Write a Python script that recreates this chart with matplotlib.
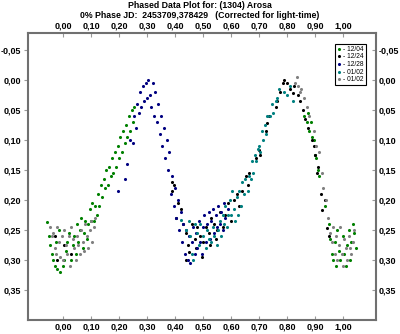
import matplotlib
matplotlib.use("Agg")
import matplotlib.pyplot as plt
from matplotlib.ticker import FuncFormatter

plt.rcParams['font.family'] = ['Liberation Sans', 'DejaVu Sans']

title1 = "Phased Data Plot for: (1304) Arosa"
title2 = "0% Phase JD:  2453709,378429   (Corrected for light-time)"

labels = ["- 12/04", "- 12/24", "- 12/28", "- 01/02", "- 01/02"]
colors = ["#008000", "#000000", "#000080", "#008080", "#808080"]

green_x = [-0.057, -0.05, -0.045, -0.04, -0.035, -0.03, -0.02, -0.01, 0.0, 0.005, -0.025, -0.015, 0.01, 0.015, 0.02,
           0.03, 0.035, 0.04, 0.045, 0.05, 0.055, 0.06, 0.065, 0.07, 0.075, 0.08, 0.085, 0.09, 0.095, 0.10, 0.105,
           0.11, 0.115, 0.12, 0.125, 0.13, 0.135, 0.14, 0.145, 0.15, 0.155, 0.16, 0.165, 0.17, 0.175, 0.18, 0.185,
           0.19, 0.195, 0.20, 0.205, 0.21, 0.215, 0.22, 0.225, 0.23, 0.235, 0.24, 0.245, 0.25, 0.255,
           0.86, 0.87, 0.875, 0.88, 0.885, 0.89, 0.895, 0.90, 0.905, 0.91, 0.915, 0.935,
           0.95, 0.955, 0.96, 0.965, 0.97, 0.975, 0.98, 0.985, 0.99, 1.0, 1.005, 1.01, 1.015, 1.02, 1.025, 1.03,
           1.035, 1.04, 1.045]
green_y = [0.236, 0.26, 0.275, 0.29, 0.30, 0.31, 0.315, 0.32, 0.31, 0.30, 0.27, 0.25, 0.285, 0.27, 0.255,
           0.30, 0.275, 0.26, 0.29, 0.24, 0.27, 0.25, 0.23, 0.28, 0.255, 0.235, 0.265, 0.24, 0.215, 0.235, 0.205,
           0.235, 0.21, 0.225, 0.19, 0.21, 0.175, 0.195, 0.165, 0.18, 0.15, 0.175, 0.145, 0.16, 0.13, 0.155, 0.12,
           0.145, 0.11, 0.13, 0.095, 0.12, 0.085, 0.105, 0.075, 0.095, 0.06, 0.085, 0.05, 0.07, 0.045,
           0.06, 0.07, 0.055, 0.085, 0.07, 0.095, 0.10, 0.125, 0.13, 0.15, 0.16, 0.21,
           0.24, 0.265, 0.29, 0.30, 0.27, 0.31, 0.25, 0.285, 0.30, 0.26, 0.29, 0.31, 0.275, 0.25, 0.30, 0.27,
           0.24, 0.255, 0.28]

black_x = [-0.03, -0.02, 0.005, 0.03,
           0.39, 0.39, 0.395, 0.41, 0.405, 0.42, 0.43, 0.44, 0.445, 0.45, 0.44, 0.46, 0.47, 0.475, 0.48, 0.49,
           0.495, 0.50, 0.51, 0.52, 0.525, 0.53, 0.54, 0.545, 0.55, 0.56, 0.57, 0.58, 0.59, 0.60, 0.61, 0.62,
           0.63, 0.64, 0.655, 0.66, 0.665, 0.69, 0.70, 0.705, 0.725, 0.73, 0.735, 0.76, 0.765, 0.775, 0.785,
           0.79, 0.80, 0.81, 0.82, 0.825, 0.84, 0.845, 0.857, 0.865, 0.875, 0.89, 0.895, 0.90, 0.907, 0.91,
           0.925, 0.92, 0.936, 0.943, 0.95]
black_y = [0.26, 0.30, 0.275, 0.29,
           0.17, 0.185, 0.175, 0.205, 0.23, 0.215, 0.24, 0.255, 0.275, 0.287, 0.30, 0.24, 0.265, 0.28, 0.245, 0.26,
           0.295, 0.27, 0.245, 0.255, 0.275, 0.23, 0.24, 0.265, 0.25, 0.22, 0.245, 0.225, 0.205, 0.235, 0.20, 0.19,
           0.21, 0.185, 0.16, 0.175, 0.155, 0.13, 0.117, 0.125, 0.085, 0.072, 0.06, 0.045, 0.035, 0.02, 0.005,
           0.0, 0.005, 0.015, 0.022, 0.01, 0.025, 0.035, 0.05, 0.065, 0.08, 0.10, 0.11, 0.125, 0.155, 0.145,
           0.217, 0.19, 0.20, 0.247, 0.26]

navy_x = [0.195, 0.22, 0.23, 0.24, 0.25, 0.255, 0.26, 0.265, 0.27, 0.275, 0.28, 0.285, 0.29, 0.295, 0.30, 0.305,
          0.31, 0.315, 0.32, 0.325, 0.33, 0.335, 0.34, 0.345, 0.35, 0.355, 0.36, 0.365, 0.37, 0.375, 0.38, 0.385,
          0.39, 0.395, 0.40, 0.405, 0.41, 0.415, 0.42, 0.425, 0.43, 0.435, 0.44, 0.445, 0.45, 0.455, 0.46, 0.465,
          0.47, 0.475, 0.48, 0.485, 0.49, 0.495, 0.50, 0.505, 0.51, 0.515, 0.52, 0.525, 0.53, 0.535, 0.54, 0.545,
          0.55, 0.555, 0.56, 0.565, 0.57, 0.575, 0.58, 0.59]
navy_y = [0.185, 0.165, 0.14, 0.10, 0.105, 0.06, 0.08, 0.04, 0.055, 0.02, 0.045, 0.01, 0.035, 0.005, 0.03, 0.0,
          0.025, 0.045, 0.005, 0.06, 0.02, 0.07, 0.04, 0.09, 0.06, 0.11, 0.08, 0.13, 0.10, 0.15, 0.12, 0.19,
          0.16, 0.21, 0.18, 0.23, 0.20, 0.25, 0.22, 0.27, 0.24, 0.29, 0.25, 0.30, 0.26, 0.305, 0.27, 0.245,
          0.29, 0.255, 0.28, 0.235, 0.27, 0.29, 0.245, 0.225, 0.27, 0.24, 0.22, 0.265, 0.235, 0.215, 0.255, 0.225,
          0.245, 0.21, 0.24, 0.22, 0.25, 0.205, 0.23, 0.215]

teal_x = [0.42, 0.44, 0.45, 0.455, 0.46, 0.465, 0.47, 0.48, 0.485, 0.49, 0.50, 0.51, 0.515, 0.52, 0.53, 0.535,
          0.54, 0.55, 0.555, 0.56, 0.565, 0.57, 0.575, 0.58, 0.585, 0.59, 0.595, 0.60, 0.605, 0.61, 0.615, 0.62,
          0.625, 0.63, 0.635, 0.64, 0.645, 0.65, 0.66, 0.665, 0.67, 0.675, 0.68, 0.685, 0.69, 0.695, 0.70, 0.705,
          0.71, 0.715, 0.72, 0.725, 0.73, 0.74, 0.745, 0.75, 0.76, 0.765, 0.77, 0.79, 0.80, 0.81, 0.82]
teal_y = [0.233, 0.25, 0.235, 0.26, 0.29, 0.30, 0.24, 0.255, 0.275, 0.24, 0.26, 0.28, 0.25, 0.265, 0.27, 0.245,
          0.26, 0.275, 0.25, 0.235, 0.26, 0.225, 0.24, 0.21, 0.245, 0.225, 0.20, 0.225, 0.185, 0.215, 0.235, 0.195,
          0.225, 0.185, 0.21, 0.17, 0.19, 0.165, 0.185, 0.16, 0.165, 0.135, 0.155, 0.125, 0.135, 0.115, 0.11, 0.12,
          0.085, 0.10, 0.075, 0.09, 0.06, 0.06, 0.04, 0.055, 0.035, 0.03, 0.015, 0.02, 0.025, 0.01, 0.035]

gray_x = [-0.045, -0.04, -0.035, -0.03, -0.025, -0.02, -0.015, -0.01, -0.005, 0.0, 0.005, 0.01, 0.015, 0.02,
          0.025, 0.03, 0.035, 0.04, 0.045, 0.05, 0.055, 0.06, 0.065, 0.07, 0.075, 0.08, 0.085, 0.09, 0.095, 0.10,
          0.105, 0.11, 0.115,
          0.83, 0.835, 0.84, 0.845, 0.85, 0.86, 0.87, 0.88, 0.895, 0.905, 0.915, 0.925, 0.93, 0.94, 0.945, 0.955,
          0.96, 0.965, 0.97, 0.975, 0.98, 0.985, 0.99, 0.995, 1.0, 1.005, 1.01, 1.015, 1.02, 1.025, 1.03, 1.035,
          1.04]
gray_y = [0.245, 0.26, 0.255, 0.28, 0.29, 0.245, 0.27, 0.295, 0.26, 0.30, 0.25, 0.275, 0.29, 0.26,
          0.31, 0.245, 0.265, 0.28, 0.30, 0.26, 0.275, 0.29, 0.25, 0.27, 0.285, 0.24, 0.26, 0.28, 0.25, 0.235,
          0.27, 0.245, 0.23,
          0.005, -0.005, 0.01, 0.02, 0.015, 0.03, 0.045, 0.06, 0.085, 0.11, 0.12, 0.155, 0.18, 0.20, 0.23, 0.255,
          0.27, 0.245, 0.29, 0.26, 0.30, 0.275, 0.245, 0.29, 0.31, 0.265, 0.28, 0.30, 0.26, 0.28, 0.29, 0.27,
          0.25]

series = [(green_x, green_y), (black_x, black_y), (navy_x, navy_y), (teal_x, teal_y), (gray_x, gray_y)]

x_ticks = [0.0, 0.1, 0.2, 0.3, 0.4, 0.5, 0.6, 0.7, 0.8, 0.9, 1.0]
y_ticks = [-0.05, 0.0, 0.05, 0.10, 0.15, 0.20, 0.25, 0.30, 0.35]

fig = plt.figure(figsize=(4.0, 3.34), dpi=100)
ax = fig.add_axes([0.07, 0.042, 0.87, 0.859])

for (xs, ys), c, lab in zip(series, colors, labels):
    ax.scatter(xs, ys, s=5, color=c, label=lab, linewidths=0, zorder=3)

ax.set_xlim(-0.125, 1.118)
ax.set_ylim(0.40, -0.078)

fmt = FuncFormatter(lambda v, p: ("%.2f" % v).replace(".", ","))
ax.set_xticks(x_ticks)
ax.set_yticks(y_ticks)
ax.xaxis.set_major_formatter(fmt)
ax.yaxis.set_major_formatter(fmt)

spine_col = "#707070"
for s in ax.spines.values():
    s.set_color(spine_col)
    s.set_linewidth(1.5)

ax.tick_params(axis='x', direction='in', length=3, width=0.8, color='#999999', labelsize=6.5, pad=2)
ax.tick_params(axis='y', direction='out', length=3, width=0.8, color='#999999', labelsize=6.5, pad=2)
for lbl in ax.get_xticklabels() + ax.get_yticklabels():
    lbl.set_fontweight('bold')

secx = ax.secondary_xaxis('top')
secx.set_xticks(x_ticks)
secx.xaxis.set_major_formatter(fmt)
secx.tick_params(direction='in', length=3, width=0.8, color='#999999', labelsize=6.5, pad=2)
for lbl in secx.get_xticklabels():
    lbl.set_fontweight('bold')
secx.spines['top'].set_visible(False)

secy = ax.secondary_yaxis('right')
secy.set_yticks(y_ticks)
secy.yaxis.set_major_formatter(fmt)
secy.tick_params(direction='in', length=3, width=0.8, color='#999999', labelsize=6.5, pad=2)
for lbl in secy.get_yticklabels():
    lbl.set_fontweight('bold')
secy.spines['right'].set_visible(False)

fig.text(0.5, 1 - 6 / 334, title1, ha='center', va='center', fontsize=6.3, fontweight='bold')
fig.text(0.5, 1 - 15.5 / 334, title2, ha='center', va='center', fontsize=6.3, fontweight='bold')

leg = ax.legend(loc='upper right', bbox_to_anchor=(0.98, 0.975), fontsize=4.8, markerscale=1.0,
                handlelength=0.6, handletextpad=0.3, borderpad=0.3, labelspacing=0.1,
                fancybox=False, framealpha=1, edgecolor='black')
leg.get_frame().set_linewidth(0.8)

fig.savefig("out.png", dpi=100)
